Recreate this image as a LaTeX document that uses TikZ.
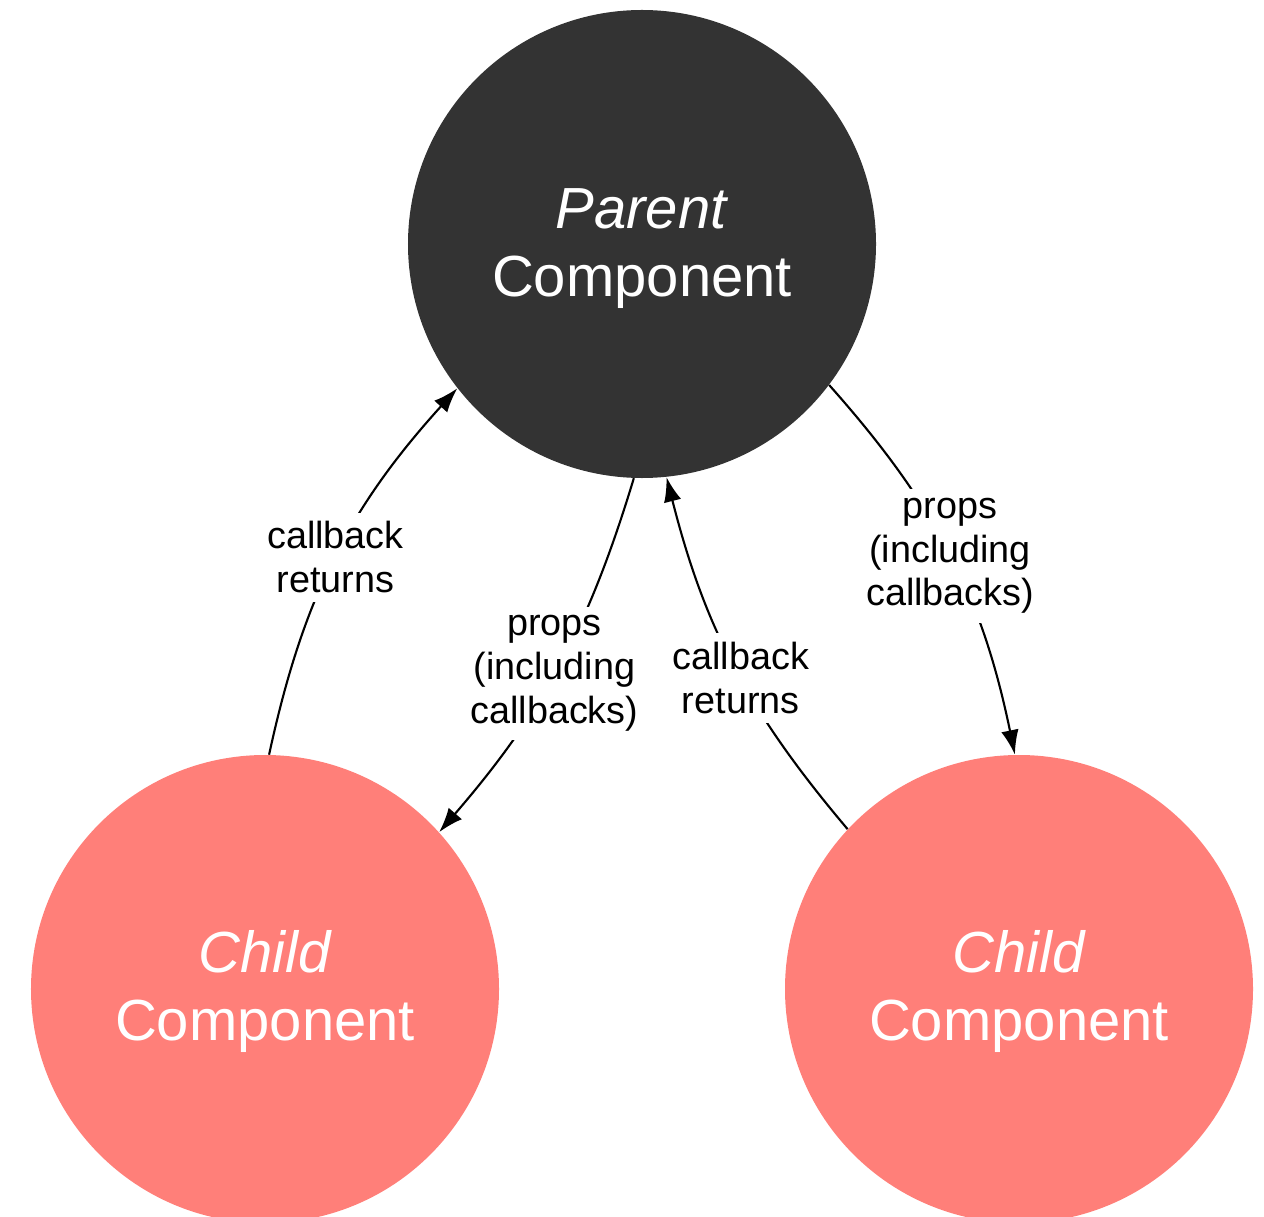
\documentclass[tikz,border=0pt]{standalone}
\usepackage{fontspec}
\setmainfont{Liberation Sans}
\usetikzlibrary{arrows.meta}
\definecolor{parentgray}{HTML}{333333}
\definecolor{childred}{HTML}{FF7F79}
\tikzset{
	comp/.style={circle, minimum size=93.6mm, inner sep=0pt, text=white, align=center, font=\fontsize{33}{38.5}\selectfont},
	flow/.style={-{Latex[length=14pt,width=10pt]}, line width=1.2pt},
	lbl/.style={fill=white, align=center, inner sep=5pt, font=\fontsize{21.5}{25}\selectfont},
}
\begin{document}
\begin{tikzpicture}[x=0.2mm,y=-0.2mm]
	\useasboundingbox (0,0) rectangle (1264,1217);
	\node[comp, fill=parentgray] (parent) at (642,244) {\rule{0pt}{28pt}\textit{Parent}\\Component};
	\node[comp, fill=childred] (childL) at (265,989) {\rule{0pt}{27pt}\textit{Child}\\Component};
	\node[comp, fill=childred] (childR) at (1019,989) {\rule{0pt}{27pt}\textit{Child}\\Component};
	\draw[flow] (childL.89) to[bend left=15] node[lbl]{callback\\returns} (parent.218);
	\draw[flow] (parent.268) to[bend left=12] node[lbl, pos=0.52]{props\\(including\\callbacks)} (childL.42);
	\draw[flow] (childR.137) to[bend left=13] node[lbl, pos=0.46]{callback\\returns} (parent.276);
	\draw[flow] (parent.323) to[bend left=15] node[lbl]{props\\(including\\callbacks)} (childR.91);
\end{tikzpicture}
\end{document}
